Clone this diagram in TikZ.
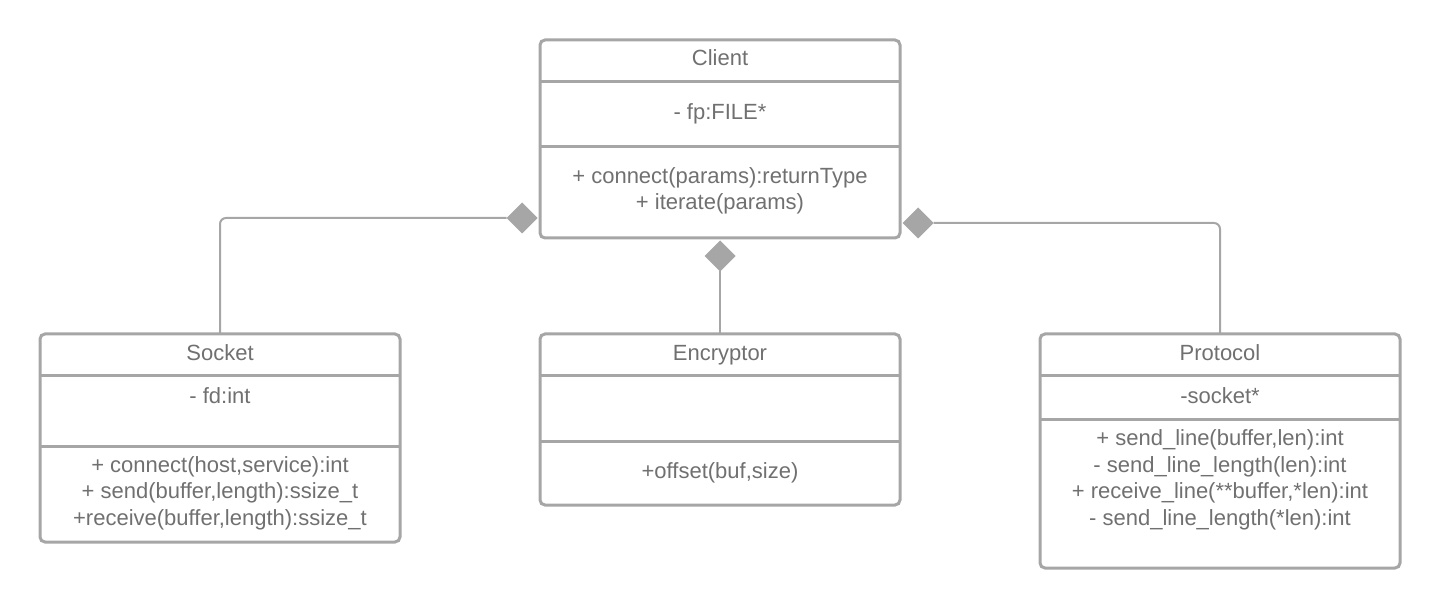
\documentclass[tikz,border=0pt]{standalone}
\usepackage{fontspec}
\setmainfont{Liberation Sans}
\usetikzlibrary{shapes.geometric}
\definecolor{umlline}{RGB}{166,166,166}
\definecolor{umltext}{RGB}{112,112,112}
\tikzstyle{classbox}=[draw=umlline, line width=3pt, rounded corners=5pt, inner sep=0, outer sep=0, minimum width=360pt]
\tikzstyle{divider}=[draw=umlline, line width=3pt]
\tikzstyle{umltxt}=[text=umltext, inner sep=0, outer sep=0, anchor=base, align=center]
\tikzstyle{compose}=[diamond, fill=umlline, inner sep=0, outer sep=0, minimum size=31pt]
\tikzstyle{assoc}=[draw=umlline, line width=2pt, rounded corners=6pt]
\tikzstyle{umldiagram}=[x=1pt, y=-1pt,
                        % Pixel grid of the original, y going down.
                        every node/.append style={font=\fontsize{22pt}{26.5pt}\selectfont}]
\begin{document}
\begin{tikzpicture}[umldiagram]
        \useasboundingbox (0,0) rectangle (1440,609);
        \node[classbox, minimum height=198pt] (Client)    at (720,139)   {};
        \node[classbox, minimum height=208pt] (Socket)    at (220,438)   {};
        \node[classbox, minimum height=171pt] (Encryptor) at (720,419.5) {};
        \node[classbox, minimum height=234pt] (Protocol)  at (1220,451)  {};
        \draw[divider] (Client.west |- 0,82)     -- (Client.east |- 0,82);
        \draw[divider] (Client.west |- 0,147)    -- (Client.east |- 0,147);
        \draw[divider] (Socket.west |- 0,376)    -- (Socket.east |- 0,376);
        \draw[divider] (Socket.west |- 0,446)    -- (Socket.east |- 0,446);
        \draw[divider] (Encryptor.west |- 0,376) -- (Encryptor.east |- 0,376);
        \draw[divider] (Encryptor.west |- 0,441) -- (Encryptor.east |- 0,441);
        \draw[divider] (Protocol.west |- 0,376)  -- (Protocol.east |- 0,376);
        \draw[divider] (Protocol.west |- 0,419)  -- (Protocol.east |- 0,419);
        % base of a multi-line text is its last line
        \node[umltxt] (ClientName)    at (720,66)   {Client};
        \node[umltxt] (ClientAttr)    at (720,120)  {- fp:FILE*};
        \node[umltxt] (ClientOps)     at (720,210)  {+ connect(params):returnType\\+ iterate(params)};
        \node[umltxt] (SocketName)    at (220,360)  {Socket};
        \node[umltxt] (SocketAttr)    at (220,403)  {- fd:int};
        \node[umltxt] (SocketOps)     at (220,525)  {+ connect(host,service):int\\+ send(buffer,length):ssize\_t\\+receive(buffer,length):ssize\_t};
        \node[umltxt] (EncryptorName) at (720,360)  {Encryptor};
        \node[umltxt] (EncryptorOps)  at (720,478)  {+offset(buf,size)};
        \node[umltxt] (ProtocolName)  at (1220,360) {Protocol};
        \node[umltxt] (ProtocolAttr)  at (1220,403) {-socket*};
        \node[umltxt] (ProtocolOps)   at (1220,525) {+ send\_line(buffer,len):int\\- send\_line\_length(len):int\\+ receive\_line(**buffer,*len):int\\- send\_line\_length(*len):int};
        \node[compose] (dSocket)    at (522,218) {};
        \node[compose] (dEncryptor) at (720,256) {};
        \node[compose] (dProtocol)  at (918,223) {};
        \draw[assoc] (Socket.north) |- (dSocket.west);
        \draw[assoc] (dEncryptor.south) -- (Encryptor.north);
        \draw[assoc] (dProtocol.east) -| (Protocol.north);
    \end{tikzpicture}
\end{document}
